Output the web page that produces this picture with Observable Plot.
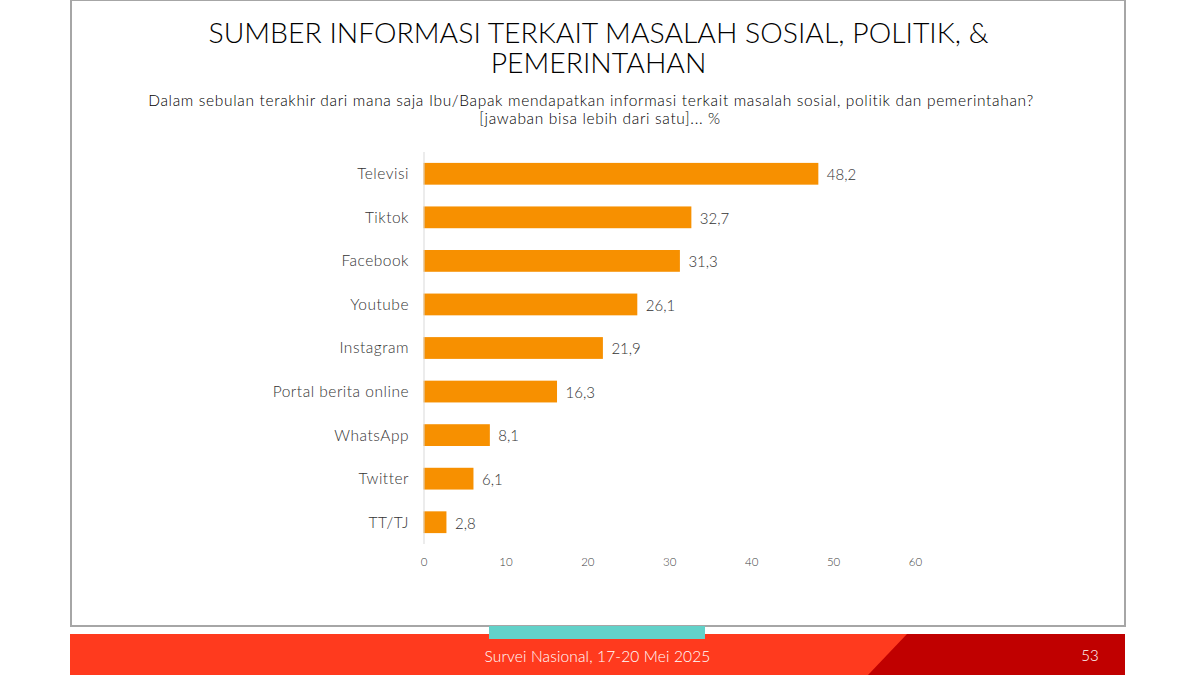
<!DOCTYPE html>
<html lang="id">
<head>
<meta charset="utf-8">
<script src="https://cdn.jsdelivr.net/npm/d3@7"></script>
<script src="https://cdn.jsdelivr.net/npm/@observablehq/plot@0.6"></script>
<style>
  html,body{margin:0;padding:0;background:#fff;width:1200px;height:675px;overflow:hidden;font-family:Lato,sans-serif;}
  .abs{position:absolute;}
  #frame{left:69.5px;top:-1px;width:1052px;height:624px;border:2px solid #a6a6a6;background:#fff;}
  #title{left:170px;width:857px;top:17px;text-align:center;font-size:28.4px;font-weight:300;line-height:30px;color:#000;}
  .sub{text-align:center;font-size:15.5px;line-height:18px;color:#000;font-weight:300;white-space:nowrap;}
  #sub1{left:91px;width:1000px;top:91px;letter-spacing:.66px;}
  #sub2{left:100px;width:1000px;top:109px;letter-spacing:.66px;}
  #chart{left:0;top:0;}
  #footer{left:70px;top:634px;width:1055px;height:41px;background:#ff3a1e;}
  #footdark{left:868px;top:634px;width:257px;height:41px;background:#c00000;clip-path:polygon(39px 0,100% 0,100% 100%,0 100%);}
  #teal{left:489px;top:626px;width:216px;height:13px;background:#62d2c9;}
  #foottext{left:397.5px;width:400px;top:647px;text-align:center;font-size:15.5px;font-weight:300;color:#fff;letter-spacing:.14px;}
  #page{left:1066px;width:48px;top:646px;text-align:center;font-size:15px;font-weight:300;color:#fff;}
  #chart svg text{font-weight:300;}
  #chart svg g[aria-label="y-axis tick label"] text{letter-spacing:.5px;}
</style>
</head>
<body>
<div class="abs" id="frame"></div>
<div class="abs" id="footer"></div>
<div class="abs" id="footdark"></div>
<div class="abs" id="teal"></div>
<div class="abs" id="foottext">Survei Nasional, 17-20 Mei 2025</div>
<div class="abs" id="page">53</div>
<div class="abs" id="chart"></div>
<div class="abs" id="title">SUMBER INFORMASI TERKAIT MASALAH SOSIAL, POLITIK, &amp; PEMERINTAHAN</div>
<div class="abs sub" id="sub1">Dalam sebulan terakhir dari mana saja Ibu/Bapak mendapatkan informasi terkait masalah sosial, politik dan pemerintahan?</div>
<div class="abs sub" id="sub2">[jawaban bisa lebih dari satu]... %</div>
<script>
const categories = ["Televisi","Tiktok","Facebook","Youtube","Instagram","Portal berita online","WhatsApp","Twitter","TT/TJ"];
const values = [48.2,32.7,31.3,26.1,21.9,16.3,8.1,6.1,2.8];
const xTicks = [0,10,20,30,40,50,60];
const rows = categories.map((c,i)=>({category:c,value:values[i]}));
const fmt = v => v.toFixed(1).replace(".",",");

const chart = Plot.plot({
  width:1200,
  height:675,
  marginLeft:423.5,
  marginRight:285,
  marginTop:152,
  marginBottom:131,
  style:{background:"transparent",fontFamily:"Lato, sans-serif"},
  x:{domain:[0,60],ticks:xTicks},
  y:{domain:categories,paddingInner:0.5,paddingOuter:0.25,round:false},
  marks:[
    Plot.barX(rows,{x:"value",y:"category",fill:"#f79000"}),
    Plot.ruleX([0],{stroke:"#d9d9d9",strokeWidth:1}),
    Plot.text(rows,{x:"value",y:"category",text:d=>fmt(d.value),textAnchor:"start",dx:8,dy:1,fontSize:15,fill:"#333333"}),
    Plot.axisY({tickSize:0,tickPadding:15,fontSize:15.5,label:null,color:"#333333"}),
    Plot.axisX({ticks:xTicks,tickSize:0,tickPadding:13,fontSize:11.5,label:null,color:"#404040"})
  ]
});
document.getElementById("chart").appendChild(chart);
</script>
</body>
</html>
